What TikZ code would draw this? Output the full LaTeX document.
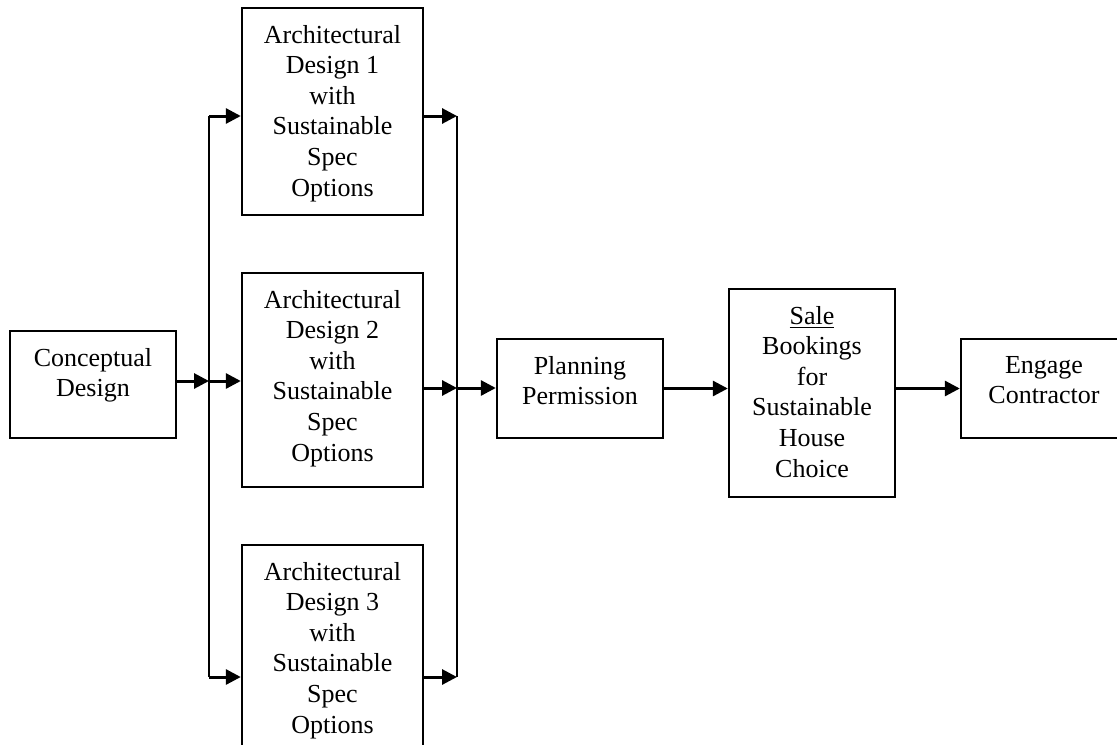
\documentclass[tikz,border=0pt]{standalone}
\usepackage{fontspec}
\setmainfont{Liberation Serif}
\usetikzlibrary{arrows.meta}
\tikzset{
    stage/.style = {draw, line width=1.2pt, inner sep=0pt, font=\fontsize{13}{15.3}\selectfont},
    flow/.style = {line width=1.5pt, -{Triangle[length=7.5pt,width=7.5pt]}},
    rail/.style = {line width=1.3pt}
}
\newcommand{\boxtext}[3]{\parbox[t][#2][t]{#1}{\centering\vspace*{8.5pt}#3}}
\begin{document}
\begin{tikzpicture}[x=0.5pt,y=-0.5pt]
        \useasboundingbox (0,0) rectangle (1117,744);
        \node[stage] (concept) at (93,384.5) {\boxtext{83pt}{53.5pt}{Conceptual\\Design}};
        \node[stage] (arch1) at (332.5,111.5) {\boxtext{90.5pt}{103.5pt}{Architectural\\Design 1\\with\\Sustainable\\Spec\\Options}};
        \node[stage] (arch2) at (332.5,380) {\boxtext{90.5pt}{107pt}{Architectural\\Design 2\\with\\Sustainable\\Spec\\Options}};
        \node[stage] (arch3) at (332.5,648.5) {\boxtext{90.5pt}{103.5pt}{Architectural\\Design 3\\with\\Sustainable\\Spec\\Options}};
        \node[stage] (plan) at (580,388.5) {\boxtext{83pt}{49.5pt}{Planning\\Permission}};
        \node[stage] (sale) at (812,393) {\boxtext{83pt}{104pt}{\underline{Sale}\\Bookings\\for\\Sustainable\\House\\Choice}};
        \node[stage] (engage) at (1044,388.5) {\boxtext{83pt}{49.5pt}{Engage\\Contractor}};
        \coordinate (split) at (209,381);
        \coordinate (splittop) at (209,116);
        \coordinate (splitbot) at (209,677);
        \coordinate (join) at (457,388);
        \coordinate (jointop) at (457,116);
        \coordinate (joinbot) at (457,677);
        \draw[rail] (splittop) -- (splitbot);
        \draw[rail] (jointop) -- (joinbot);
        \draw[flow] (concept.east |- split) -- (split);
        \draw[flow] (split) -- (split -| arch2.west);
        \draw[flow] (splittop) -- (splittop -| arch1.west);
        \draw[flow] (splitbot) -- (splitbot -| arch3.west);
        \draw[flow] (arch1.east |- jointop) -- (jointop);
        \draw[flow] (arch2.east |- join) -- (join);
        \draw[flow] (arch3.east |- joinbot) -- (joinbot);
        \draw[flow] (join) -- (join -| plan.west);
        \draw[flow] (plan.east) -- (plan.east -| sale.west);
        \draw[flow] (sale.east |- plan.east) -- (plan.east -| engage.west);
\end{tikzpicture}
\end{document}
